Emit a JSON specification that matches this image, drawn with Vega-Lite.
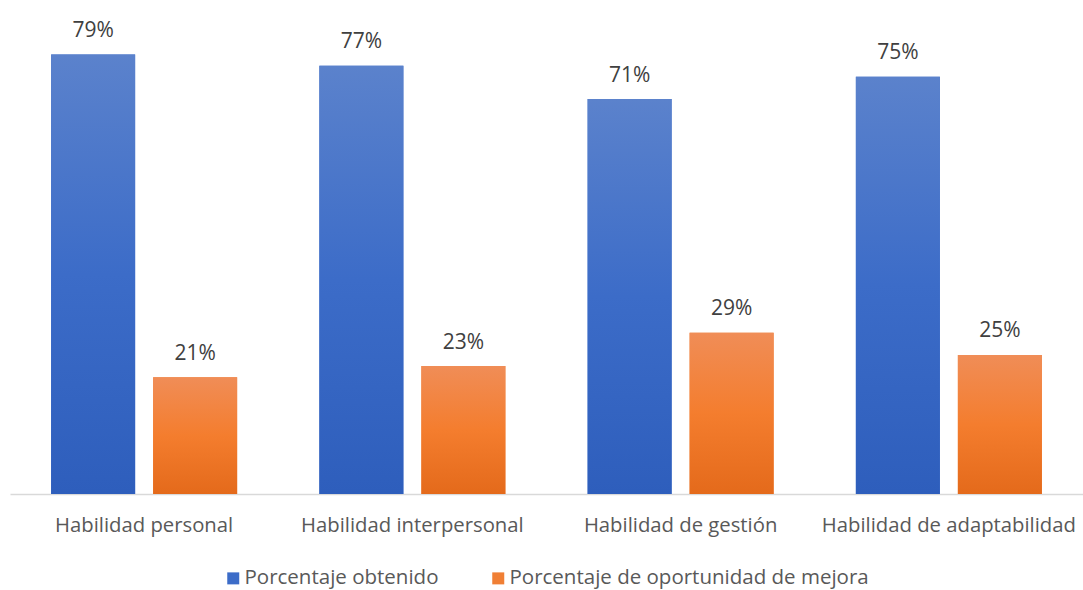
{
  "$schema": "https://vega.github.io/schema/vega-lite/v6.json",
  "width": 1073,
  "height": 445,
  "autosize": {"type": "none"},
  "padding": {"left": 10, "top": 49, "right": 0, "bottom": 96},
  "background": "white",
  "config": {
    "view": {"stroke": null},
    "font": "Open Sans"
  },
  "data": {
    "values": [
      {"habilidad": "Habilidad personal", "serie": "Porcentaje obtenido", "valor": 0.79},
      {"habilidad": "Habilidad personal", "serie": "Porcentaje de oportunidad de mejora", "valor": 0.21},
      {"habilidad": "Habilidad interpersonal", "serie": "Porcentaje obtenido", "valor": 0.77},
      {"habilidad": "Habilidad interpersonal", "serie": "Porcentaje de oportunidad de mejora", "valor": 0.23},
      {"habilidad": "Habilidad de gestión", "serie": "Porcentaje obtenido", "valor": 0.71},
      {"habilidad": "Habilidad de gestión", "serie": "Porcentaje de oportunidad de mejora", "valor": 0.29},
      {"habilidad": "Habilidad de adaptabilidad", "serie": "Porcentaje obtenido", "valor": 0.75},
      {"habilidad": "Habilidad de adaptabilidad", "serie": "Porcentaje de oportunidad de mejora", "valor": 0.25}
    ]
  },
  "encoding": {
    "x": {
      "field": "habilidad",
      "type": "nominal",
      "sort": null,
      "title": null,
      "scale": {"paddingInner": 0.3066, "paddingOuter": 0.1533},
      "axis": {
        "labelAngle": 0,
        "labelFontSize": 20.3,
        "labelColor": "#595959",
        "labelPadding": 21,
        "labelLimit": 0,
        "labelOverlap": false,
        "ticks": false,
        "domainColor": "#d9d9d9",
        "domainWidth": 1.5,
        "grid": false
      }
    },
    "xOffset": {
      "field": "serie",
      "type": "nominal",
      "sort": ["Porcentaje obtenido", "Porcentaje de oportunidad de mejora"],
      "scale": {"domain": ["Porcentaje obtenido", "Porcentaje de oportunidad de mejora"], "paddingInner": 0.1765, "paddingOuter": 0}
    },
    "y": {
      "field": "valor",
      "type": "quantitative",
      "scale": {"domain": [0, 0.8], "nice": false},
      "axis": null
    }
  },
  "layer": [
    {
      "mark": {"type": "bar"},
      "encoding": {
        "color": {
          "field": "serie",
          "type": "nominal",
          "title": null,
          "scale": {
            "domain": ["Porcentaje obtenido", "Porcentaje de oportunidad de mejora"],
            "range": ["#3c6cc8", "#f07f35"]
          },
          "legend": {
            "orient": "none",
            "direction": "horizontal",
            "legendX": 213,
            "legendY": 519,
            "symbolType": "square",
            "symbolSize": 144,
            "symbolStrokeWidth": 0,
            "labelFontSize": 20.5,
            "labelColor": "#595959",
            "labelOffset": 1,
            "columnPadding": 49,
            "labelLimit": 0
          }
        }
      }
    },
    {
      "transform": [{"filter": "datum.serie === 'Porcentaje obtenido'"}],
      "mark": {
        "type": "bar",
        "fill": {"gradient": "linear", "x1": 0, "y1": 0, "x2": 0, "y2": 1,
          "stops": [{"offset": 0, "color": "#5b82cc"}, {"offset": 0.5, "color": "#3c6cc8"}, {"offset": 1, "color": "#2e5ebc"}]}
      }
    },
    {
      "transform": [{"filter": "datum.serie !== 'Porcentaje obtenido'"}],
      "mark": {
        "type": "bar",
        "fill": {"gradient": "linear", "x1": 0, "y1": 0, "x2": 0, "y2": 1,
          "stops": [{"offset": 0, "color": "#f08d57"}, {"offset": 0.5, "color": "#f47d2e"}, {"offset": 1, "color": "#e46a1b"}]}
      }
    },
    {
      "mark": {"type": "text", "baseline": "alphabetic", "dy": -17.5, "fontSize": 21, "color": "#404040"},
      "encoding": {
        "text": {"field": "valor", "type": "quantitative", "format": ".0%"}
      }
    }
  ]
}
